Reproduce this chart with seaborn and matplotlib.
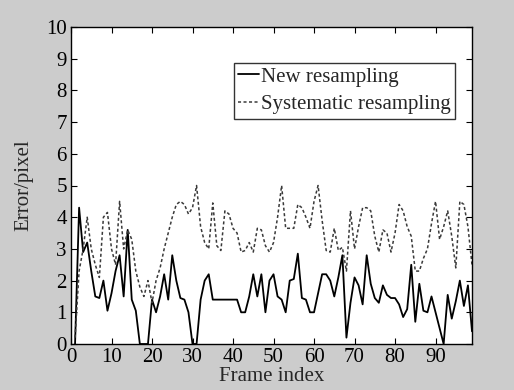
import numpy as np
import pandas as pd
import matplotlib
matplotlib.use("Agg")
import matplotlib.pyplot as plt
import seaborn as sns

frames = list(range(1, 100))

new_resampling = [
    0.0, 4.3, 2.9, 3.2, 2.3, 1.5, 1.45, 2.0, 1.05, 1.6,
    2.3, 2.8, 1.5, 3.6, 1.4, 1.05, 0.0, 0.0, 0.0, 1.4,
    1.0, 1.5, 2.2, 1.4, 2.8, 2.0, 1.45, 1.4, 1.0, 0.0,
    0.0, 1.4, 2.0, 2.2, 1.4, 1.4, 1.4, 1.4, 1.4, 1.4,
    1.4, 1.0, 1.0, 1.5, 2.2, 1.5, 2.2, 1.0, 2.0, 2.2,
    1.5, 1.4, 1.0, 2.0, 2.05, 2.85, 1.45, 1.4, 1.0, 1.0,
    1.6, 2.2, 2.2, 2.0, 1.5, 2.1, 2.8, 0.2, 1.3, 2.1,
    1.85, 1.25, 2.8, 1.9, 1.45, 1.3, 1.85, 1.55, 1.45, 1.45,
    1.25, 0.85, 1.1, 2.5, 0.7, 1.9, 1.05, 1.0, 1.5, 1.0,
    0.5, 0.0, 1.55, 0.8, 1.35, 2.0, 1.2, 1.85, 0.4,
]

systematic_resampling = [
    0.2, 2.3, 3.0, 4.0, 3.0, 2.5, 2.1, 4.0, 4.15, 3.0,
    2.5, 4.5, 3.0, 3.6, 3.3, 2.3, 1.8, 1.5, 2.0, 1.3,
    2.0, 2.4, 3.0, 3.5, 4.0, 4.4, 4.5, 4.4, 4.1, 4.3,
    5.0, 3.7, 3.2, 3.0, 4.45, 3.1, 2.95, 4.2, 4.1, 3.65,
    3.5, 2.9, 2.95, 3.2, 2.9, 3.65, 3.6, 3.1, 2.9, 3.2,
    4.0, 5.0, 3.65, 3.65, 3.65, 4.4, 4.3, 4.0, 3.65, 4.5,
    5.0, 3.9, 2.95, 2.9, 3.65, 2.95, 3.05, 2.3, 4.2, 3.0,
    3.7, 4.3, 4.3, 4.2, 3.4, 2.9, 3.6, 3.5, 2.9, 3.5,
    4.4, 4.2, 3.7, 3.4, 2.3, 2.3, 2.7, 3.0, 3.8, 4.5,
    3.3, 3.7, 4.2, 3.4, 2.4, 4.5, 4.4, 3.7, 2.5,
]

series_names = ["New resampling", "Systematic resampling"]
x_ticks = list(range(0, 100, 10))
y_ticks = list(range(0, 11))

sns.set_style("ticks")
plt.rcParams["font.family"] = ["Liberation Serif", "DejaVu Serif"]

bg = "#cccccc"
fig = plt.figure(figsize=(5.14, 3.90), dpi=100, facecolor=bg)
ax = fig.add_axes([71 / 514, 1 - 344 / 390, (472 - 71) / 514, (344 - 27) / 390])
ax.set_facecolor("white")

sns.lineplot(x=frames, y=new_resampling, ax=ax, color="black", linewidth=1.3,
             label=series_names[0])
sns.lineplot(x=frames, y=systematic_resampling, ax=ax, color="#3a3a3a", linewidth=1.1,
             linestyle=(0, (2.0, 1.6)), label=series_names[1])

ax.set_xlim(0, 99)
ax.set_ylim(0, 10)
ax.set_xticks(x_ticks)
ax.set_yticks(y_ticks)
ax.tick_params(direction="in", top=True, right=True, length=4, width=0.8,
               labelsize=15, colors="black")
ax.tick_params(axis="x", pad=3)
ax.tick_params(axis="y", pad=3)
for s in ax.spines.values():
    s.set_color("black")
    s.set_linewidth(1.0)
    s.set_visible(True)

ax.set_xlabel("Frame index", fontsize=15, labelpad=0)
ax.set_ylabel("Error/pixel", fontsize=15, labelpad=9)

leg = ax.legend(loc="upper right", bbox_to_anchor=(0.957, 0.887), frameon=True,
                fancybox=False, fontsize=15, handlelength=1.0, handletextpad=0.1,
                borderpad=0.2, labelspacing=0.4, borderaxespad=0)
leg.get_frame().set_edgecolor("black")
leg.get_frame().set_linewidth(1.0)

fig.savefig("out.png", dpi=100, facecolor=bg)
